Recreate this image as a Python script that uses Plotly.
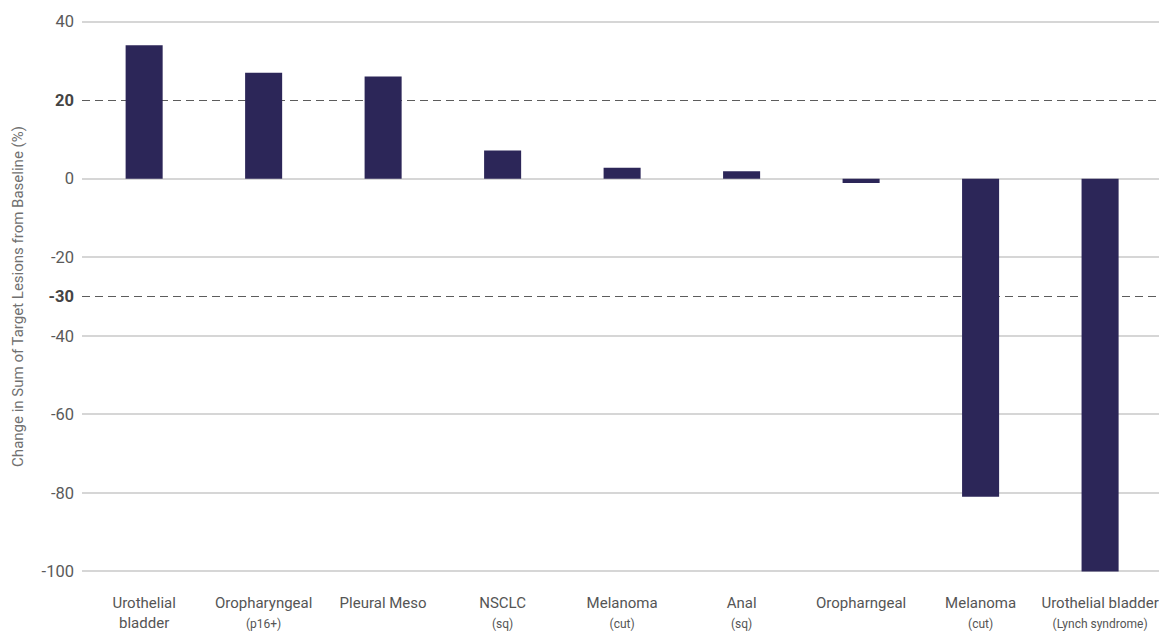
import plotly.graph_objects as go

categories = ["Urothelial<br>bladder",
              "Oropharyngeal<br><span style='font-size:12px'>(p16+)</span>",
              "Pleural Meso",
              "NSCLC<br><span style='font-size:12px'>(sq)</span>",
              "Melanoma<br><span style='font-size:12px'>(cut)</span>",
              "Anal<br><span style='font-size:12px'>(sq)</span>",
              "Oropharngeal",
              "Melanoma<br><span style='font-size:12px'>(cut)</span>",
              "Urothelial bladder<br><span style='font-size:12px'>(Lynch syndrome)</span>"]
values = [34, 27, 26, 7.2, 2.8, 1.9, -1.1, -81, -100]

grid_ticks = [40, 0, -20, -40, -60, -80, -100]
ref_lines = [20, -30]

xpos = list(range(len(categories)))

fig = go.Figure()
fig.add_trace(go.Bar(x=xpos, y=values, width=0.31,
                     marker=dict(color="#2c2658", line=dict(width=0)),
                     showlegend=False, hoverinfo="skip"))
# empty trace so the overlaid reference-line axis is drawn
fig.add_trace(go.Scatter(x=[], y=[], yaxis="y2", showlegend=False,
                         hoverinfo="skip"))

font_family = "Roboto, Open Sans, sans-serif"

fig.update_layout(
    width=1159, height=625,
    margin=dict(l=74, r=0, t=12, b=60, autoexpand=False),
    paper_bgcolor="white", plot_bgcolor="white",
    font=dict(family=font_family, color="#555555"),
    xaxis=dict(
        range=[-0.52, 8.56], automargin=False,
        tickmode="array", tickvals=xpos, ticktext=categories,
        showgrid=False, zeroline=False, showline=False,
        ticks="", ticklabelstandoff=19,
        tickfont=dict(size=15, color="#555555"),
    ),
    yaxis=dict(
        range=[-100.4, 40.4], automargin=False,
        tickmode="array", tickvals=grid_ticks,
        ticktext=[str(v) for v in grid_ticks],
        showgrid=True, gridcolor="#d6d6d6", gridwidth=1.5,
        zeroline=False, showline=False, ticks="",
        ticklabelstandoff=7,
        tickfont=dict(size=16.5, color="#5a5a5a"),
        title=dict(text="Change in Sum of Target Lesions from Baseline (%)",
                   font=dict(size=15, color="#707070"), standoff=14),
    ),
    yaxis2=dict(
        range=[-100.4, 40.4], overlaying="y", side="left", anchor="x",
        automargin=False,
        tickmode="array", tickvals=ref_lines,
        ticktext=["<b>%d</b>" % v for v in ref_lines],
        showgrid=True, gridcolor="#5c5c5c", gridwidth=1.4, griddash="8px,5px",
        zeroline=False, showline=False, ticks="",
        ticklabelstandoff=7,
        tickfont=dict(size=16.5, color="#444444"),
    ),
)

fig.write_html("out.html")
